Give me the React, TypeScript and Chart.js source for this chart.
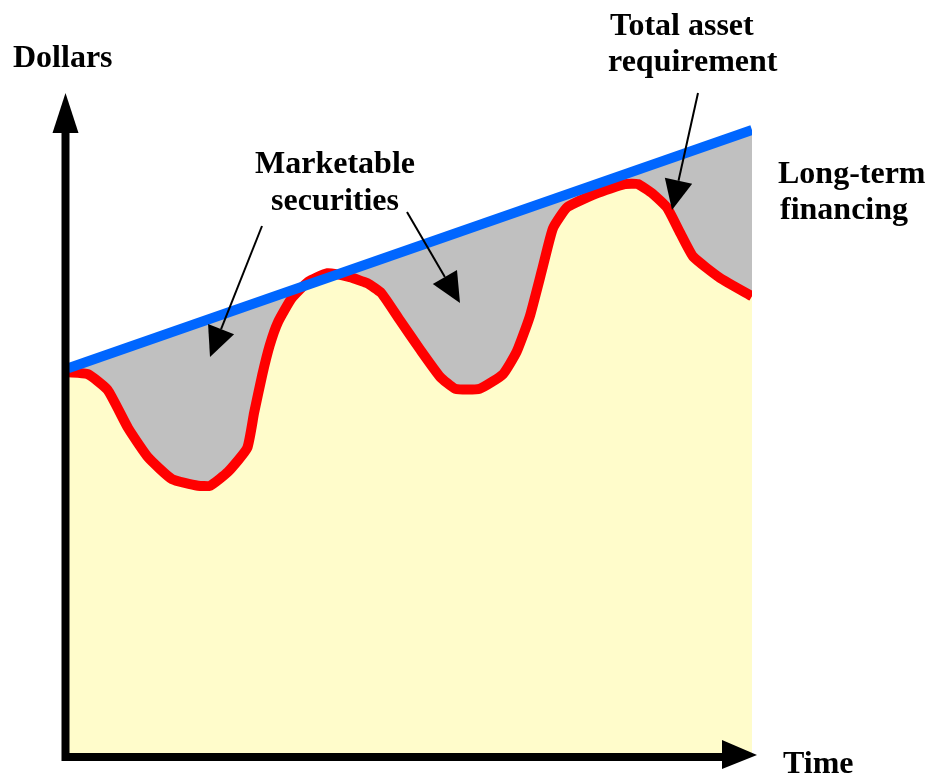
import React, { useEffect, useRef } from "react";
import { Chart, registerables } from "chart.js";

Chart.register(...registerables);

// Total asset requirement (blue straight trend line)
const totalTime = [0, 100];
const totalAssets = [58.3, 94.4];

// Fluctuating (current) asset requirement (red line)
const assetTime = [
  0, 2.9, 5.8, 8.8, 11.7, 15.2, 19.0, 20.8, 23.4, 26.2, 27.2, 28.4, 29.5, 30.7,
  32.7, 35.1, 37.9, 41.2, 43.7, 45.8, 48.5, 51.5, 54.4, 56.6, 60.2, 63.6, 65.6,
  67.5, 69.4, 70.9, 73.0, 77.3, 81.4, 83.3, 85.5, 87.6, 89.5, 91.4, 95.3, 100,
];
const assetValues = [
  57.7, 57.4, 55.0, 49.2, 44.8, 41.5, 40.5, 40.5, 42.6, 46.2, 51.5, 57.3, 61.8,
  65.3, 68.9, 71.4, 72.7, 72.1, 71.2, 69.7, 65.6, 61.1, 57.0, 55.2, 55.2, 57.4,
  60.8, 66.1, 73.6, 79.5, 82.7, 84.8, 86.2, 86.2, 84.7, 82.6, 78.8, 75.2, 72.0,
  69.2,
];

const yAxisTitle = "Dollars";
const xAxisTitle = "Time";
const labelSecurities = ["Marketable", "securities"];
const labelTotal = ["Total asset", "requirement"];
const labelFinancing = ["Long-term", "financing"];

const FONT = 'bold 32px "Liberation Serif", "DejaVu Serif", serif';

function drawArrowHead(ctx: CanvasRenderingContext2D, x1: number, y1: number, x2: number, y2: number, len: number, half: number) {
  const ang = Math.atan2(y2 - y1, x2 - x1);
  const bx = x2 - len * Math.cos(ang);
  const by = y2 - len * Math.sin(ang);
  const px = -Math.sin(ang) * half;
  const py = Math.cos(ang) * half;
  ctx.beginPath();
  ctx.moveTo(x2, y2);
  ctx.lineTo(bx + px, by + py);
  ctx.lineTo(bx - px, by - py);
  ctx.closePath();
  ctx.fill();
  return { bx, by };
}

function pointer(ctx: CanvasRenderingContext2D, x1: number, y1: number, x2: number, y2: number) {
  const { bx, by } = drawArrowHead(ctx, x1, y1, x2, y2, 30, 14);
  ctx.beginPath();
  ctx.moveTo(x1, y1);
  ctx.lineTo(bx, by);
  ctx.lineWidth = 2;
  ctx.stroke();
}

const decorPlugin = {
  id: "decor",
  afterDatasetsDraw(chart: any) {
    const ctx: CanvasRenderingContext2D = chart.ctx;
    const { left, top, right, bottom } = chart.chartArea;
    ctx.save();
    ctx.fillStyle = "#000";
    ctx.strokeStyle = "#000";
    // axes
    const ax = left - 2.5;
    const ay = bottom + 4;
    ctx.lineWidth = 8;
    ctx.lineJoin = "miter";
    ctx.lineCap = "butt";
    ctx.beginPath();
    ctx.moveTo(ax, top + 38);
    ctx.lineTo(ax, ay);
    ctx.lineTo(right - 28, ay);
    ctx.stroke();
    // y arrow head
    ctx.beginPath();
    ctx.moveTo(ax, top);
    ctx.lineTo(ax - 13, top + 40);
    ctx.lineTo(ax + 13, top + 40);
    ctx.closePath();
    ctx.fill();
    // x arrow head
    ctx.beginPath();
    ctx.moveTo(right + 5, ay - 2);
    ctx.lineTo(right - 30, ay - 17);
    ctx.lineTo(right - 30, ay + 12);
    ctx.closePath();
    ctx.fill();

    // annotation pointers
    pointer(ctx, 262, 226, 210, 357);
    pointer(ctx, 407, 212, 460, 303);
    pointer(ctx, 698, 93, 672, 210);

    // texts
    ctx.font = FONT;
    ctx.textBaseline = "alphabetic";
    ctx.textAlign = "left";
    ctx.fillText(yAxisTitle, 13, 67);
    ctx.fillText(xAxisTitle, 783, 773);
    ctx.fillText(labelTotal[0], 610, 35);
    ctx.fillText(labelTotal[1], 608, 71);
    ctx.fillText(labelFinancing[0], 778, 183);
    ctx.fillText(labelFinancing[1], 780, 219);
    ctx.textAlign = "center";
    ctx.fillText(labelSecurities[0], 335, 173);
    ctx.fillText(labelSecurities[1], 335, 210);
    ctx.restore();
  },
};

export default function App() {
  const ref = useRef<HTMLCanvasElement | null>(null);
  useEffect(() => {
    if (!ref.current) return;
    const totalPts = totalTime.map((x, i) => ({ x, y: totalAssets[i] }));
    const assetPts = assetTime.map((x, i) => ({ x, y: assetValues[i] }));
    const chart = new Chart(ref.current, {
      type: "line",
      data: {
        datasets: [
          {
            label: "Long-term financing area",
            data: totalPts,
            borderWidth: 0,
            borderColor: "rgba(0,0,0,0)",
            backgroundColor: "#C0C0C0",
            fill: "origin",
            pointRadius: 0,
            order: 3,
          },
          {
            label: "Fluctuating assets",
            data: assetPts,
            borderWidth: 10,
            borderColor: "#FF0000",
            backgroundColor: "#FFFCCB",
            borderJoinStyle: "round",
            fill: "origin",
            pointRadius: 0,
            tension: 0.15,
            order: 2,
          },
          {
            label: "Total asset requirement",
            data: totalPts,
            borderWidth: 10,
            borderColor: "#0066FF",
            fill: false,
            pointRadius: 0,
            order: 1,
          },
        ],
      },
      options: {
        animation: false,
        responsive: false,
        devicePixelRatio: 1,
        layout: { padding: { left: 68, right: 187, top: 93, bottom: 25 } },
        scales: {
          x: { type: "linear", min: 0, max: 100, display: false },
          y: { type: "linear", min: 0, max: 100, display: false },
        },
        plugins: {
          legend: { display: false },
          tooltip: { enabled: false },
          title: { display: false },
        },
      },
      plugins: [decorPlugin],
    });
    return () => chart.destroy();
  }, []);
  return (
    <div style={{ position: "absolute", left: 0, top: 0, width: 939, height: 778, background: "#fff" }}>
      <canvas ref={ref} width={939} height={778} style={{ width: 939, height: 778, display: "block" }} />
    </div>
  );
}
